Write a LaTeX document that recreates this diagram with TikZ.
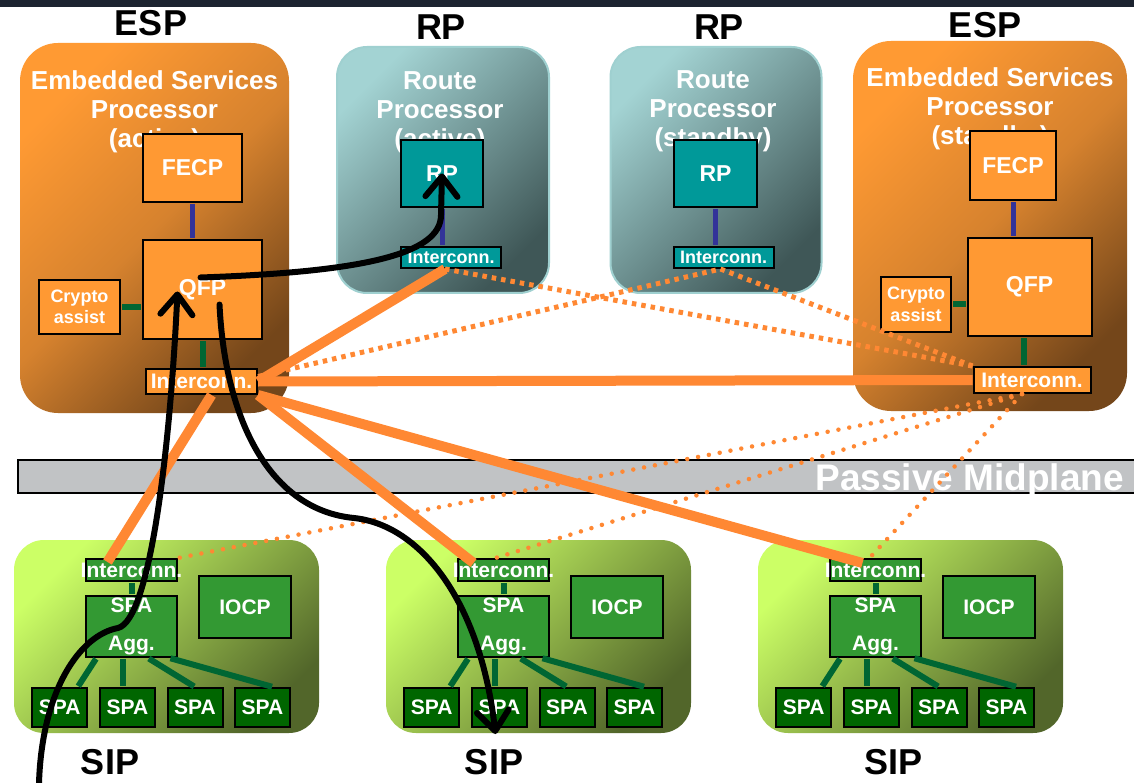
\documentclass[tikz,border=0pt]{standalone}
\usepackage{fontspec}
\setmainfont{Liberation Sans}
\usepackage{tikz}
\usetikzlibrary{arrows.meta}

\definecolor{espLight}{HTML}{FF9A33}
\definecolor{espMid}{HTML}{D6822E}
\definecolor{espDark}{HTML}{74461A}
\definecolor{espFill}{HTML}{FF9933}
\definecolor{rpLight}{HTML}{A3D3D3}
\definecolor{rpDark}{HTML}{3F5757}
\definecolor{rpEdge}{HTML}{9FD0D0}
\definecolor{rpFill}{HTML}{009999}
\definecolor{sipLight}{HTML}{CCFF66}
\definecolor{sipDark}{HTML}{52662A}
\definecolor{sipFill}{HTML}{339933}
\definecolor{spaFill}{HTML}{006600}
\definecolor{busBlue}{HTML}{333399}
\definecolor{busGreen}{HTML}{006633}
\definecolor{linkOrange}{HTML}{FF8833}
\definecolor{planeGray}{HTML}{C1C3C5}
\definecolor{topBand}{HTML}{1C2430}

\begin{document}
\begin{tikzpicture}[x=1pt,y=-1pt,
    >={Straight Barb[length=20pt,width=32pt,round]},
    espcard/.style={rounded corners=38pt, top color=espLight, bottom color=espDark, middle color=espMid, shading angle=45, inner sep=0pt},
    rpcard/.style={rounded corners=30pt, draw=rpEdge, line width=2pt, top color=rpLight, bottom color=rpDark, shading angle=45, inner sep=0pt},
    sipcard/.style={rounded corners=30pt, top color=sipLight, bottom color=sipDark, shading angle=45, inner sep=0pt, minimum width=305pt, minimum height=193pt},
    title/.style={text=white, align=center, inner sep=0pt, anchor=north, font=\fontsize{26}{29}\selectfont\bfseries},
    heading/.style={inner sep=0pt, font=\fontsize{36}{40}\selectfont\bfseries},
    bigunit/.style={font=\fontsize{23}{27}\selectfont\bfseries},
    icfont/.style={font=\fontsize{21}{25}\selectfont\bfseries},
    smallic/.style={font=\fontsize{18}{22}\selectfont\bfseries},
    cryptofont/.style={align=center, font=\fontsize{18}{21.5}\selectfont\bfseries},
    aggfont/.style={align=center, font=\fontsize{21}{38}\selectfont\bfseries},
    espunit/.style={draw, line width=2pt, fill=espFill, text=white, inner sep=0pt},
    rpunit/.style={draw, line width=2pt, fill=rpFill, text=white, inner sep=0pt},
    sipunit/.style={draw, line width=2pt, fill=sipFill, text=white, inner sep=0pt, icfont},
    spa/.style={draw, line width=2pt, fill=spaFill, text=white, inner sep=0pt, minimum width=55pt, minimum height=39pt, icfont},
    midplane/.style={draw, line width=1.5pt, fill=planeGray, minimum width=1120pt, minimum height=33pt},
    planetext/.style={text=white, inner sep=0pt, font=\fontsize{37}{40}\selectfont\bfseries},
    bluebus/.style={busBlue, line width=5pt, shorten <=1pt, shorten >=1pt},
    greenbus/.style={busGreen, line width=6pt, shorten <=1pt, shorten >=1pt},
    link/.style={linkOrange, line width=10pt},
    standby/.style={linkOrange, line width=5pt, dash pattern=on 4.5pt off 5pt},
    sipdots/.style={linkOrange, line width=4.5pt, line cap=round, dash pattern=on 0pt off 11pt},
    flow/.style={->, line width=6pt, line cap=round}]

    \useasboundingbox[fill=white] (0,0) rectangle (1134,783);
    \fill[topBand] (0,0) rectangle (1134,7);

    \node[espcard, minimum width=269pt, minimum height=370pt] (espA) at (154.5,228) {};
    \node[rpcard, minimum width=212pt, minimum height=246pt] (rpcA) at (443,170) {};
    \node[rpcard, minimum width=211pt, minimum height=246pt] (rpcB) at (716,170) {};
    \node[espcard, minimum width=274pt, minimum height=370pt] (espB) at (990,226) {};
    \node[sipcard] (sipA) at (166.5,636.5) {};
    \node[sipcard] (sipB) at (538.5,636.5) {};
    \node[sipcard] (sipC) at (910.5,636.5) {};

    \node[title] (tEspA) at (154.5,70) {Embedded Services\\Processor\\(active)};
    \node[title] (tRpA) at (440,71.5) {Route\\Processor\\(active)};
    \node[title] (tRpB) at (713,70) {Route\\Processor\\(standby)};
    \node[title] (tEspB) at (990,67) {Embedded Services\\Processor\\(standby)};

    \node[heading] (hEspA) at (151,23) {ESP};
    \node[heading] (hRpA) at (441,27.5) {RP};
    \node[heading] (hRpB) at (719,27.5) {RP};
    \node[heading] (hEspB) at (985,25) {ESP};
    \node[heading] (hSipA) at (110,762) {SIP};
    \node[heading] (hSipB) at (494,762) {SIP};
    \node[heading] (hSipC) at (893,762) {SIP};

    \node[midplane] (plane) at (578,476.5) {};
    \node[planetext, anchor=base east] (planeText) at (1124,490) {Passive Midplane};

    \node[espunit, bigunit, minimum width=99pt, minimum height=68pt] (fecpA) at (192.5,168) {FECP};
    \node[espunit, bigunit, minimum width=119pt, minimum height=99pt] (qfpA) at (202.5,289.5) {QFP};
    \node[espunit, cryptofont, minimum width=81pt, minimum height=54pt] (cryptoA) at (79.5,307) {Crypto\\assist};
    \node[espunit, icfont, minimum width=111pt, minimum height=25pt] (icA) at (201.5,381.5) {Interconn.};

    \node[rpunit, bigunit, minimum width=82pt, minimum height=67pt] (rpA) at (442,173.5) {RP};
    \node[rpunit, smallic, minimum width=100pt, minimum height=21pt] (icRA) at (451,257.5) {Interconn.};
    \node[rpunit, bigunit, minimum width=83.5pt, minimum height=67pt] (rpB) at (715.5,173.5) {RP};
    \node[rpunit, smallic, minimum width=100pt, minimum height=21pt] (icRB) at (723.5,257.5) {Interconn.};

    \node[espunit, bigunit, minimum width=86pt, minimum height=69pt] (fecpB) at (1013,165.5) {FECP};
    \node[espunit, bigunit, minimum width=124pt, minimum height=98pt] (qfpB) at (1029.5,287) {QFP};
    \node[espunit, cryptofont, minimum width=70pt, minimum height=55pt] (cryptoB) at (916,304.5) {Crypto\\assist};
    \node[espunit, icfont, minimum width=117pt, minimum height=26pt] (icB) at (1032,380) {Interconn.};

    \node[sipunit, minimum width=91pt, minimum height=22pt] (icSA) at (131.5,570) {\makebox[0pt]{Interconn.}};
    \node[sipunit, aggfont, minimum width=91pt, minimum height=61pt] (aggA) at (131.5,626.5) {SPA\\Agg.};
    \node[sipunit, minimum width=92pt, minimum height=62pt] (iocpA) at (245,607) {IOCP};
    \node[spa] (spaA1) at (59.75,707.5) {SPA};
    \node[spa] (spaA2) at (127.5,707.5) {SPA};
    \node[spa] (spaA3) at (195,707.5) {SPA};
    \node[spa] (spaA4) at (262.5,707.5) {SPA};

    \node[sipunit, minimum width=91pt, minimum height=22pt] (icSB) at (503.5,570) {\makebox[0pt]{Interconn.}};
    \node[sipunit, aggfont, minimum width=91pt, minimum height=61pt] (aggB) at (503.5,626.5) {SPA\\Agg.};
    \node[sipunit, minimum width=92pt, minimum height=62pt] (iocpB) at (617,607) {IOCP};
    \node[spa] (spaB1) at (431.75,707.5) {SPA};
    \node[spa] (spaB2) at (499.5,707.5) {SPA};
    \node[spa] (spaB3) at (567,707.5) {SPA};
    \node[spa] (spaB4) at (634.5,707.5) {SPA};

    \node[sipunit, minimum width=91pt, minimum height=22pt] (icSC) at (875.5,570) {\makebox[0pt]{Interconn.}};
    \node[sipunit, aggfont, minimum width=91pt, minimum height=61pt] (aggC) at (875.5,626.5) {SPA\\Agg.};
    \node[sipunit, minimum width=92pt, minimum height=62pt] (iocpC) at (989,607) {IOCP};
    \node[spa] (spaC1) at (803.75,707.5) {SPA};
    \node[spa] (spaC2) at (871.5,707.5) {SPA};
    \node[spa] (spaC3) at (939,707.5) {SPA};
    \node[spa] (spaC4) at (1006.5,707.5) {SPA};

    \draw[bluebus] (fecpA.south) -- (fecpA.south |- qfpA.north);
    \draw[greenbus] (qfpA.south) -- (qfpA.south |- icA.north);
    \draw[greenbus] (cryptoA.east) -- (cryptoA.east -| qfpA.west);
    \draw[bluebus] (rpA.south) -- (rpA.south |- icRA.north);
    \draw[bluebus] (rpB.south) -- (rpB.south |- icRB.north);
    \draw[bluebus] (fecpB.south) -- (fecpB.south |- qfpB.north);
    \draw[greenbus] ([xshift=-6pt]qfpB.south) -- ([xshift=-6pt]qfpB.south |- icB.north);
    \draw[greenbus] (cryptoB.east) -- (cryptoB.east -| qfpB.west);

    \draw[greenbus] (icSA.south) -- (icSA.south |- aggA.north);
    \draw[greenbus] ([xshift=-35pt]aggA.south) -- ([xshift=18pt]spaA1.north);
    \draw[greenbus] ([xshift=-8.5pt]aggA.south) -- ([xshift=-4.5pt]spaA2.north);
    \draw[greenbus] ([xshift=16.5pt]aggA.south) -- (spaA3.north);
    \draw[greenbus] ([xshift=38pt]aggA.south) -- ([xshift=10.5pt]spaA4.north);
    \draw[greenbus] (icSB.south) -- (icSB.south |- aggB.north);
    \draw[greenbus] ([xshift=-35pt]aggB.south) -- ([xshift=18pt]spaB1.north);
    \draw[greenbus] ([xshift=-8.5pt]aggB.south) -- ([xshift=-4.5pt]spaB2.north);
    \draw[greenbus] ([xshift=16.5pt]aggB.south) -- (spaB3.north);
    \draw[greenbus] ([xshift=38pt]aggB.south) -- ([xshift=10.5pt]spaB4.north);
    \draw[greenbus] (icSC.south) -- (icSC.south |- aggC.north);
    \draw[greenbus] ([xshift=-35pt]aggC.south) -- ([xshift=18pt]spaC1.north);
    \draw[greenbus] ([xshift=-8.5pt]aggC.south) -- ([xshift=-4.5pt]spaC2.north);
    \draw[greenbus] ([xshift=16.5pt]aggC.south) -- (spaC3.north);
    \draw[greenbus] ([xshift=38pt]aggC.south) -- ([xshift=10.5pt]spaC4.north);

    \draw[link] (icA.east) -- ([xshift=-6pt]icRA.south);
    \draw[link] (icA.east) -- (icB.west);
    \draw[link] (icA.south east) -- ([xshift=-30pt,yshift=7pt]icSB.center);
    \draw[link] (icA.south east) -- ([xshift=-13pt,yshift=7pt]icSC.center);
    \draw[link] ([xshift=10pt]icA.south) -- ([xshift=-24pt,yshift=8pt]icSA.center);

    \draw[standby] ([yshift=5pt]icA.east) -- ([xshift=-3pt]icRB.south);
    \draw[standby] ([xshift=-6pt]icRA.south) -- (icB.north west);
    \draw[standby] ([xshift=-3pt]icRB.south) -- (icB.north west);

    \draw[sipdots] ([xshift=-10pt]icB.south) -- (icSA.north east);
    \draw[sipdots] ([xshift=-10pt]icB.south) -- ([xshift=-8pt]icSB.north);
    \draw[sipdots] ([xshift=-10pt]icB.south) -- ([xshift=-6pt]icSC.north);

    \coordinate (inlet) at (39,783);
    \draw[flow] ([xshift=-2pt,yshift=12pt]qfpA.center) .. controls (360,272) and (441,255) .. (441,215) -- (rpA.center);
    \draw[flow] (inlet) .. controls (42,690) and (80,635) .. (118,628) .. controls (150,620) and (170,450) .. ([xshift=-25pt,yshift=-2pt]qfpA.center);
    \draw[flow] ([xshift=17pt,yshift=-15pt]qfpA.center) .. controls (225,420) and (270,510) .. (354,518) .. controls (420,525) and (480,600) .. ([xshift=-4pt,yshift=-6pt]spaB2.south);
\end{tikzpicture}
\end{document}
